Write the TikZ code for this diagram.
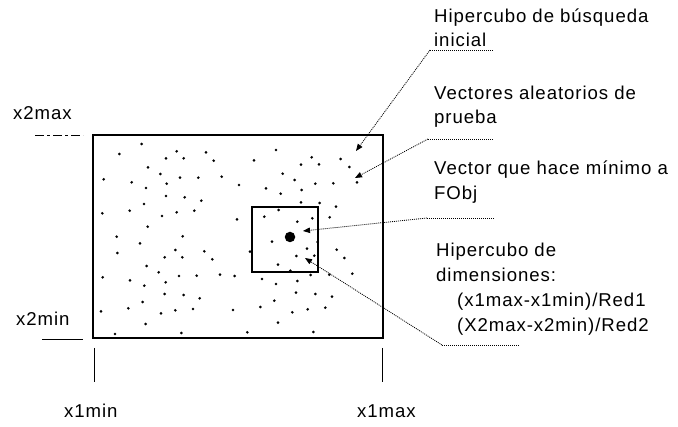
\documentclass[tikz,border=0pt]{standalone}
\usepackage{fontspec}
\setmainfont{Liberation Sans}[LetterSpace=5]
\usetikzlibrary{arrows.meta}
\begin{document}
\begin{tikzpicture}[x=1pt,y=-1pt,
  lbl/.style={anchor=base west,inner sep=0pt,font=\fontsize{18.6}{24}\selectfont},
  frame/.style={line width=1.3pt},
  uline/.style={line width=0.8pt,dash pattern=on 1pt off 1pt},
  conn/.style={line width=0.8pt,dash pattern=on 1pt off 1pt,
    -{Triangle[length=7pt,width=5.5pt]}},
  pt/.style={fill=black}]
\useasboundingbox (0,0) rectangle (678,427);
% search hypercube
\coordinate (A) at (93,135);
\coordinate (B) at (383,338);
\draw[frame] (A) rectangle (B);
% reduced hypercube
\coordinate (C) at (252,207);
\coordinate (D) at (318,272);
\draw[frame] (C) rectangle (D);
% random vectors
\foreach \a/\b in {425/42,358/72,530/64,618/67,498/85,551/85,641/92,762/91,828/60,935/82,903/104,957/103,1022/87,1048/111,444/112,481/132,540/143,595/143,665/140,848/131,311/148,395/157,500/161,438/174,717/165,798/175,884/150,946/161,1000/160,1071/157,905/180,842/191,498/198,554/202,604/212,432/222,903/217,959/219,1008/230,307/250,389/242,530/247,583/242,486/258,711/268,836/240,793/260,892/275,937/265,989/262,443/290,350/320,548/319,420/340,816/335,953/336,352/369,526/360,613/364,494/382,547/382,637/388,750/365,889/378,921/356,943/377,1010/359,1033/384,440/408,476/427,834/404,871/422,308/442,390/451,537/438,590/437,660/434,704/438,497/457,433/467,786/447,828/462,892/453,932/435,988/434,1057/431,494/492,551/495,599/505,888/488,946/492,996/500,428/516,823/512,303/544,385/535,483/550,526/541,579/537,699/540,781/531,877/547,923/538,976/533,437/582,834/578,345/612,544/609,742/607,940/606}
  \fill[pt] ({\a/3},{130+\b/3}) circle (1.45);
% minimum vector
\node[pt,circle,inner sep=0pt,minimum size=10.5pt] (M) at (290,237) {};
% axis marks
\coordinate (x2a) at (35,135); \coordinate (x2b) at (83,135);
\draw[line width=0.8pt,dash pattern=on 9pt off 3pt on 3pt off 3pt] (x2a) -- (x2b);
\coordinate (x2c) at (42,339); \coordinate (x2d) at (83,339);
\draw[line width=0.9pt] (x2c) -- (x2d);
\coordinate (v1a) at (94,348); \coordinate (v1b) at (94,382);
\coordinate (v2a) at (382,348); \coordinate (v2b) at (382,382);
\draw[line width=0.9pt] (v1a) -- (v1b);
\draw[line width=0.9pt] (v2a) -- (v2b);
\node[lbl] (x2max) at (13,120) {x2max};
\node[lbl] (x2min) at (16,326) {x2min};
\node[lbl] (x1min) at (64,418) {x1min};
\node[lbl] (x1max) at (357,418) {x1max};
% labels
\node[lbl] (l1a) at (434,23) {Hipercubo de búsqueda};
\node[lbl] (l1b) at (434,47) {inicial};
\node[lbl] (l2a) at (434,100) {Vectores aleatorios de};
\node[lbl] (l2b) at (434,124) {prueba};
\node[lbl] (l3a) at (434,175) {Vector que hace mínimo a};
\node[lbl] (l3b) at (434,200) {FObj};
\node[lbl] (l4a) at (436,257) {Hipercubo de};
\node[lbl] (l4b) at (436,282) {dimensiones:};
\node[lbl] (l4c) at (457,307) {(x1max-x1min)/Red1};
\node[lbl] (l4d) at (457,332) {(X2max-x2min)/Red2};
% leader lines
\coordinate (u1s) at (430,50); \coordinate (u1e) at (494,50);
\coordinate (u2s) at (428,139); \coordinate (u2e) at (494,139);
\coordinate (u3s) at (427,218); \coordinate (u3e) at (495,218);
\coordinate (u4s) at (442,345); \coordinate (u4e) at (520,345);
\draw[uline] (u1s) -- (u1e);
\draw[uline] (u2s) -- (u2e);
\draw[uline] (u3s) -- (u3e);
\draw[uline] (u4s) -- (u4e);
\coordinate (t1) at (356,151);
\coordinate (t2) at (355,178);
\coordinate (t3) at (303,231);
\coordinate (t4) at (305,258);
\draw[conn] (u1s) -- (t1);
\draw[conn] (u2s) -- (t2);
\draw[conn] (u3s) -- (t3);
\draw[conn] (u4s) -- (t4);
\end{tikzpicture}
\end{document}
